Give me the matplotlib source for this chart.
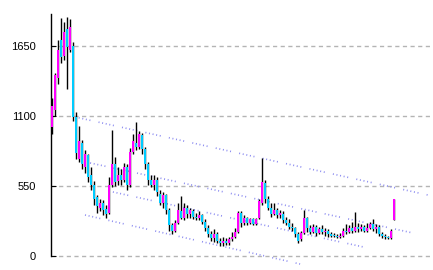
import matplotlib
matplotlib.use("Agg")
import matplotlib.pyplot as plt

# ---- data (OHLC per session) ----
opens = [1010, 1150, 1400, 1700, 1570, 1780, 1620, 1650, 1090, 760,
         890, 700, 790, 640, 560, 460, 380, 420, 370, 340,
         560, 720, 590, 640, 600, 700, 560, 820, 890, 860,
         950, 840, 720, 600, 560, 600, 490, 420, 480, 360,
         240, 200, 260, 350, 300, 380, 330, 350, 310, 300,
         320, 270, 220, 170, 140, 170, 120, 100, 120, 100,
         130, 150, 190, 340, 260, 300, 260, 290, 250, 300,
         420, 570, 450, 380, 330, 360, 320, 330, 280, 260,
         230, 220, 170, 130, 180, 300, 220, 190, 230, 180,
         210, 190, 200, 170, 165, 155, 150, 160, 200, 190,
         220, 200, 230, 210, 230, 200, 220, 250, 210, 230,
         170, 160, 150, 140, 283]
highs = [1240, 1440, 1700, 1870, 1840, 1880, 1860, 1680, 1130, 1020,
         910, 830, 800, 700, 590, 480, 450, 440, 400, 620,
         990, 780, 700, 680, 730, 720, 850, 960, 1050, 980,
         970, 860, 740, 640, 640, 620, 520, 500, 490, 380,
         260, 280, 420, 470, 420, 400, 380, 370, 340, 350,
         330, 290, 240, 200, 210, 190, 140, 150, 140, 150,
         190, 220, 350, 350, 320, 310, 300, 300, 300, 450,
         770, 600, 470, 420, 420, 380, 360, 350, 310, 290,
         260, 230, 190, 200, 360, 310, 240, 250, 240, 230,
         240, 220, 210, 190, 180, 170, 180, 220, 250, 240,
         270, 345, 260, 250, 240, 260, 270, 290, 250, 240,
         190, 170, 160, 210, 448]
lows = [960, 1100, 1350, 1520, 1540, 1310, 1600, 1060, 760, 740,
        680, 650, 580, 520, 400, 340, 350, 320, 300, 330,
        540, 550, 560, 560, 580, 520, 540, 800, 830, 840,
        800, 680, 560, 540, 520, 470, 400, 380, 330, 200,
        170, 190, 250, 290, 280, 300, 300, 290, 280, 280,
        250, 200, 150, 120, 110, 100, 80, 80, 90, 90,
        120, 140, 180, 230, 240, 240, 250, 240, 240, 290,
        400, 420, 360, 310, 320, 300, 300, 260, 240, 210,
        200, 150, 100, 120, 170, 190, 170, 180, 160, 170,
        170, 160, 150, 150, 150, 140, 140, 150, 170, 180,
        180, 190, 190, 200, 190, 190, 210, 200, 180, 160,
        140, 135, 130, 130, 283]
closes = [1180, 1420, 1620, 1560, 1760, 1640, 1800, 1090, 810, 900,
          720, 800, 620, 560, 450, 390, 420, 360, 330, 560,
          720, 580, 640, 600, 700, 560, 820, 900, 860, 960,
          840, 720, 600, 560, 600, 500, 420, 480, 360, 240,
          200, 260, 360, 300, 380, 330, 360, 310, 300, 320,
          270, 220, 170, 140, 170, 120, 100, 120, 100, 130,
          150, 190, 340, 260, 300, 260, 290, 250, 290, 430,
          580, 450, 380, 330, 360, 320, 340, 280, 260, 230,
          220, 170, 120, 180, 300, 220, 190, 230, 180, 210,
          190, 200, 170, 160, 155, 150, 160, 200, 190, 220,
          200, 230, 210, 230, 200, 220, 250, 210, 230, 170,
          160, 150, 140, 200, 448]

# channel lines: (x0, y0, x1, y1) in data units
channel_x0 = [7.7, 12.7, 20.3, 11.0]
channel_y0 = [1092, 731, 503, 322]
channel_x1 = [125.3, 120.3, 105.3, 82.7]
channel_y1 = [479, 181, 63, -63]

yticks = [0, 550, 1100, 1650]

UP = "#ff00ff"
DOWN = "#00ccff"
CHAN = "#8c8cf0"

fig = plt.figure(figsize=(4.33, 2.70), dpi=100)
ax = fig.add_axes([51 / 433, 11 / 270, 382 / 433, 245 / 270])

for x0, y0, x1, y1 in zip(channel_x0, channel_y0, channel_x1, channel_y1):
    ax.plot([x0, x1], [y0, y1], color=CHAN, lw=1.2,
            linestyle=(0, (0.6, 1.6, 0.6, 1.6, 0.6, 1.6, 0.6, 1.6, 0.6, 5)),
            zorder=1, clip_on=False)

xs = list(range(len(closes)))
ax.vlines(xs, lows, highs, color="black", lw=1.0, zorder=2)
for x, o, c in zip(xs, opens, closes):
    col = UP if c >= o else DOWN
    lo = min(o, c)
    h = max(abs(c - o), 10)
    ax.bar(x, h, bottom=lo, width=0.95, color=col, linewidth=0, zorder=3)

ax.set_xlim(-1 / 3, -1 / 3 + 382 / 3)
ax.set_ylim(-3 * 7.857, 1901)

for s in ["top", "right", "bottom"]:
    ax.spines[s].set_visible(False)
ax.spines["left"].set_color("black")
ax.spines["left"].set_linewidth(1.0)
ax.spines["left"].set_bounds(0, 1901)

ax.set_xticks([])
ax.set_yticks(yticks)
ax.set_yticklabels([str(t) for t in yticks], family="Liberation Sans", fontsize=8)
ax.tick_params(axis="y", direction="in", length=3.5, width=0.8, pad=11, colors="black")
ax.grid(axis="y", color="#b4b4b4", linestyle=(0, (3, 2.5)), lw=1.0, zorder=0)
ax.set_axisbelow(True)

fig.savefig("out.png", dpi=100)
